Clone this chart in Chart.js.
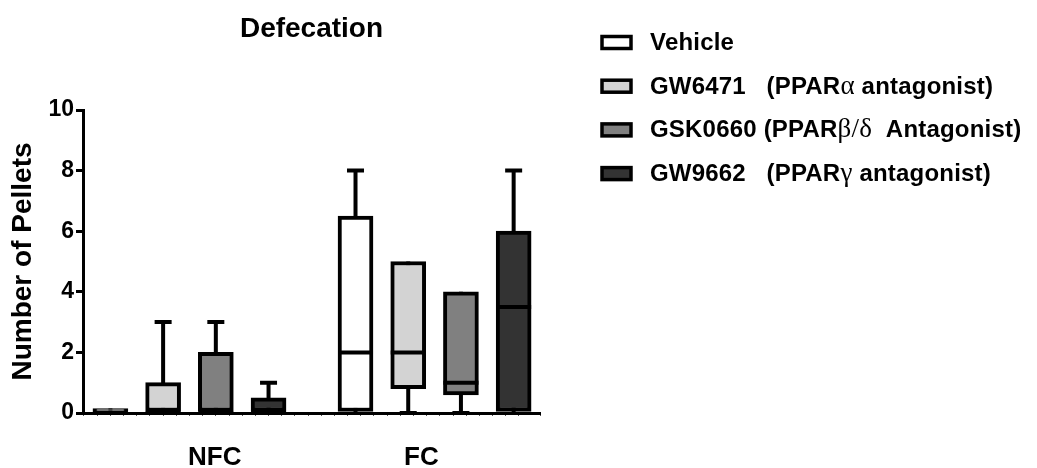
<!DOCTYPE html>
<html>
<head>
<meta charset="utf-8">
<title>Defecation</title>
<script src="https://cdn.jsdelivr.net/npm/chart.js@4"></script>
<style>
  body { margin: 0; background: #fff; }
</style>
</head>
<body>
<canvas id="pelletChart" width="1037" height="468"></canvas>
<script>
// groups along the x axis and the four treatments
const groups = ['NFC', 'FC'];
const treatments = [
    'Vehicle',
    'GW6471   (PPARα antagonist)',
    'GSK0660 (PPARβ/δ  Antagonist)',
    'GW9662   (PPARγ antagonist)'
];

// box plot statistics, one row per treatment, [NFC, FC]
const whiskerLow  = [[0, 0],    [0, 0],   [0, 0],   [0, 0]];
const quartile1   = [[0, 0],    [0, 0.8], [0, 0.6], [0, 0]];
const medians     = [[0, 2],    [0, 2],   [0, 1],   [0, 3.5]];
const quartile3   = [[0.15, 6.5], [1, 5], [2, 4],   [0.5, 6]];
const whiskerHigh = [[0.15, 8], [3, 5],   [3, 4],   [1, 8]];

const yTickValues = [0, 2, 4, 6, 8, 10];

// where each group starts on the linear x scale, and where its label sits
const groupStart = [0, 4.65];
const groupLabelAt = [1.98, 5.9];

const fills = ['#ffffff', '#d3d3d3', '#808080', '#333333'];
const FONT = '"Liberation Sans", Arial, sans-serif';
const GREEK_FONT = '"Liberation Serif", "Times New Roman", serif';
const BOX_W = 35;
const CAP_W = 17;

function slotX(ti, gi) {
    return groupStart[gi] + ti;
}

const datasets = treatments.map((name, ti) => ({
    label: name,
    data: groups.map((g, gi) => ({ x: slotX(ti, gi), y: [quartile1[ti][gi], quartile3[ti][gi]] })),
    backgroundColor: fills[ti],
    borderColor: '#000',
    borderWidth: 4,
    borderSkipped: false,
    barThickness: BOX_W,
    grouped: false
}));

// legend text: greek letters (and the slash between them) in a plain serif face
function drawMixed(ctx, text, x, y, size) {
    const parts = text.split(/([α-ωΑ-Ω\/]+)/);
    parts.forEach(p => {
        if (!p) return;
        const greek = /[α-ωΑ-Ω\/]/.test(p);
        ctx.font = greek ? `${size + 3}px ${GREEK_FONT}` : `bold ${size}px ${FONT}`;
        ctx.fillText(p, x, y);
        x += ctx.measureText(p).width;
    });
}

const boxExtras = {
    id: 'boxExtras',
    beforeDatasetsDraw(chart) {
        const { ctx, scales: { x, y } } = chart;
        ctx.save();
        ctx.strokeStyle = '#000';
        ctx.lineWidth = 4;
        treatments.forEach((t, ti) => {
            groups.forEach((g, gi) => {
                const px = x.getPixelForValue(slotX(ti, gi));
                const lo = y.getPixelForValue(whiskerLow[ti][gi]);
                const hi = y.getPixelForValue(whiskerHigh[ti][gi]);
                ctx.beginPath();
                ctx.moveTo(px, lo);
                ctx.lineTo(px, hi);
                if (whiskerHigh[ti][gi] > quartile3[ti][gi]) {
                    ctx.moveTo(px - CAP_W / 2, hi);
                    ctx.lineTo(px + CAP_W / 2, hi);
                }
                if (whiskerLow[ti][gi] < quartile1[ti][gi]) {
                    ctx.moveTo(px - CAP_W / 2, lo);
                    ctx.lineTo(px + CAP_W / 2, lo);
                }
                ctx.stroke();
            });
        });
        ctx.restore();
    },
    afterDatasetsDraw(chart) {
        const { ctx, scales: { x, y } } = chart;
        ctx.save();
        ctx.strokeStyle = '#000';
        ctx.lineWidth = 4;
        treatments.forEach((t, ti) => {
            groups.forEach((g, gi) => {
                const px = x.getPixelForValue(slotX(ti, gi));
                const py = y.getPixelForValue(medians[ti][gi]);
                ctx.beginPath();
                ctx.moveTo(px - BOX_W / 2, py);
                ctx.lineTo(px + BOX_W / 2, py);
                ctx.stroke();
            });
        });
        ctx.restore();
    },
    afterDraw(chart) {
        const { ctx, chartArea, scales: { x } } = chart;
        ctx.save();
        ctx.fillStyle = '#000';

        // title
        ctx.textAlign = 'center';
        ctx.textBaseline = 'alphabetic';
        ctx.font = `bold 28px ${FONT}`;
        ctx.fillText('Defecation', (chartArea.left + chartArea.right) / 2, 37);

        // group labels under the axis
        ctx.font = `bold 26px ${FONT}`;
        groups.forEach((g, gi) => {
            ctx.fillText(g, x.getPixelForValue(groupLabelAt[gi]), 465);
        });

        // y axis title
        ctx.save();
        ctx.translate(23, (chartArea.top + chartArea.bottom) / 2);
        ctx.rotate(-Math.PI / 2);
        ctx.textBaseline = 'middle';
        ctx.font = `bold 28px ${FONT}`;
        ctx.fillText('Number of Pellets', 0, 0);
        ctx.restore();

        // legend
        ctx.textAlign = 'left';
        ctx.letterSpacing = '0.2px';
        treatments.forEach((t, ti) => {
            const base = 50 + ti * 43.7;
            ctx.fillStyle = fills[ti];
            ctx.fillRect(602, base - 13.5, 29, 12);
            ctx.strokeStyle = '#000';
            ctx.lineWidth = 3.5;
            ctx.strokeRect(602, base - 13.5, 29, 12);
            ctx.fillStyle = '#000';
            drawMixed(ctx, t, 650, base, 24);
        });
        ctx.restore();
    }
};

new Chart(document.getElementById('pelletChart'), {
    type: 'bar',
    data: { datasets },
    options: {
        responsive: false,
        animation: false,
        layout: { padding: { top: 110, right: 497, bottom: 0, left: 0 } },
        plugins: {
            legend: { display: false },
            title: { display: false },
            tooltip: { enabled: false }
        },
        scales: {
            x: {
                type: 'linear',
                min: -0.52,
                max: 8.15,
                offset: false,
                grid: { display: true, drawOnChartArea: false, offset: false, tickLength: 3, lineWidth: 1, color: '#555' },
                border: { display: true, width: 3, color: '#000' },
                ticks: { stepSize: 0.25, callback: () => '' },
                afterFit(scale) { scale.height = 55; }
            },
            y: {
                min: 0,
                max: 10,
                grid: { display: true, drawOnChartArea: false, tickLength: 7, lineWidth: 3, color: '#000' },
                border: { display: true, width: 3, color: '#000' },
                ticks: {
                    color: '#000',
                    padding: 2,
                    font: { family: FONT, size: 23, weight: 'bold' }
                },
                afterBuildTicks(scale) { scale.ticks = yTickValues.map(v => ({ value: v })); },
                afterFit(scale) { scale.width = 83; }
            }
        }
    },
    plugins: [boxExtras]
});
</script>
</body>
</html>
